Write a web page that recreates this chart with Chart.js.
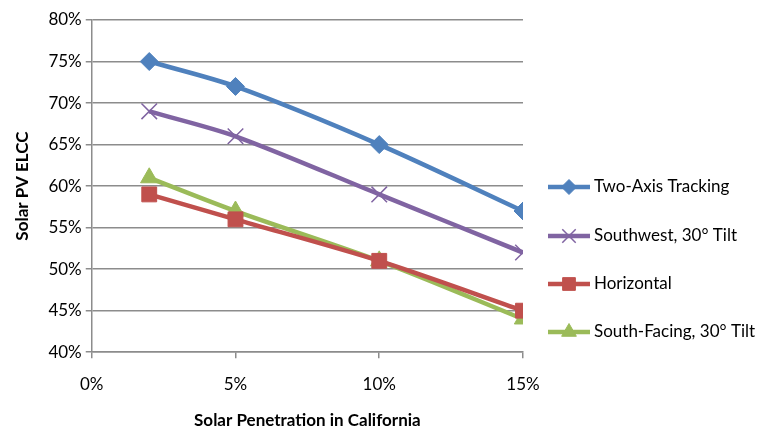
<!DOCTYPE html>
<html>
<head>
<meta charset="utf-8">
<script src="https://cdn.jsdelivr.net/npm/chart.js@4.4.1/dist/chart.umd.min.js"></script>
<style>
  html, body { margin: 0; padding: 0; background: #fff; }
  #wrap { width: 770px; height: 433px; position: relative; }
</style>
</head>
<body>
<div id="wrap"><canvas id="chart"></canvas></div>
<script>
// Solar penetration (%) for each point
const penetration = [2, 5, 10, 15];

const twoAxis = [75, 72, 65, 57];
const southwest = [69, 66, 59, 52];
const horizontal = [59, 56, 51, 45];
const southFacing = [61, 57, 51, 44];

const seriesNames = ["Two-Axis Tracking", "Southwest, 30° Tilt", "Horizontal", "South-Facing, 30° Tilt"];

const xTicks = [0, 5, 10, 15];
const yTicks = [40, 45, 50, 55, 60, 65, 70, 75, 80];

const FONT = "Lato, 'Open Sans', sans-serif";
const GRID = "#8c8c8c";

const toPoints = vals => vals.map((v, i) => ({ x: penetration[i], y: v }));

const styles = [
  { color: "#4f81bd", point: "rectRot", radius: 9 },
  { color: "#8064a2", point: "crossRot", radius: 11 },
  { color: "#c0504d", point: "rect", radius: 10.5 },
  { color: "#9bbb59", point: "triangle", radius: 10 }
];

const allValues = [twoAxis, southwest, horizontal, southFacing];

const datasets = allValues.map((vals, i) => ({
  label: seriesNames[i],
  data: toPoints(vals),
  borderColor: styles[i].color,
  backgroundColor: styles[i].color,
  borderWidth: 4.5,
  tension: 0.3,
  pointStyle: styles[i].point,
  pointRadius: styles[i].radius,
  pointBorderWidth: styles[i].point === "crossRot" ? 1.5 : 1,
  pointBorderColor: styles[i].color,
  pointBackgroundColor: styles[i].color
}));

// legend drawn at the right, line + marker like the original
const sideLegend = {
  id: "sideLegend",
  afterDraw(chart) {
    const ctx = chart.ctx;
    const x0 = 548, x1 = 590;
    const ys = [187, 236, 284, 332];
    ctx.save();
    datasets.forEach((ds, i) => {
      const y = ys[i];
      ctx.strokeStyle = ds.borderColor;
      ctx.lineWidth = 4.5;
      ctx.beginPath();
      ctx.moveTo(x0, y);
      ctx.lineTo(x1, y);
      ctx.stroke();
      ctx.fillStyle = ds.backgroundColor;
      ctx.lineWidth = ds.pointBorderWidth;
      Chart.helpers.drawPoint(ctx, {
        pointStyle: ds.pointStyle,
        radius: ds.pointRadius - 1.5,
        borderWidth: ds.pointBorderWidth,
        rotation: 0
      }, (x0 + x1) / 2, y);
      ctx.fillStyle = "#000";
      ctx.font = "17px " + FONT;
      ctx.textBaseline = "middle";
      ctx.fillText(ds.label, 594, y);
    });
    ctx.restore();
  }
};

new Chart(document.getElementById("chart"), {
  type: "line",
  data: { datasets },
  options: {
    responsive: true,
    maintainAspectRatio: false,
    animation: false,
    layout: { padding: { top: 20, right: 247, left: 8, bottom: 0 } },
    plugins: {
      legend: { display: false },
      tooltip: { enabled: false }
    },
    scales: {
      x: {
        type: "linear",
        min: 0,
        max: 15,
        afterBuildTicks: axis => { axis.ticks = xTicks.map(v => ({ value: v })); },
        ticks: {
          callback: v => v + "%",
          color: "#000",
          font: { size: 17, family: FONT },
          padding: 16
        },
        grid: { drawOnChartArea: false, drawTicks: true, tickLength: 6, color: GRID, lineWidth: 1.5 },
        border: { color: GRID, width: 1.5 },
        title: {
          display: true,
          text: "Solar Penetration in California",
          color: "#000",
          font: { size: 17, weight: "bold", family: FONT },
          padding: { top: 0, bottom: 2 }
        }
      },
      y: {
        min: 40,
        max: 80,
        afterBuildTicks: axis => { axis.ticks = yTicks.map(v => ({ value: v })); },
        ticks: {
          callback: v => v + "%",
          color: "#000",
          font: { size: 17, family: FONT },
          padding: 4
        },
        grid: { drawTicks: true, tickLength: 6, color: GRID, lineWidth: 1.5 },
        border: { color: GRID, width: 1.5 },
        title: {
          display: true,
          text: "Solar PV ELCC",
          color: "#000",
          font: { size: 17, weight: "bold", family: FONT },
          padding: { bottom: 12 }
        }
      }
    }
  },
  plugins: [sideLegend]
});
</script>
</body>
</html>
